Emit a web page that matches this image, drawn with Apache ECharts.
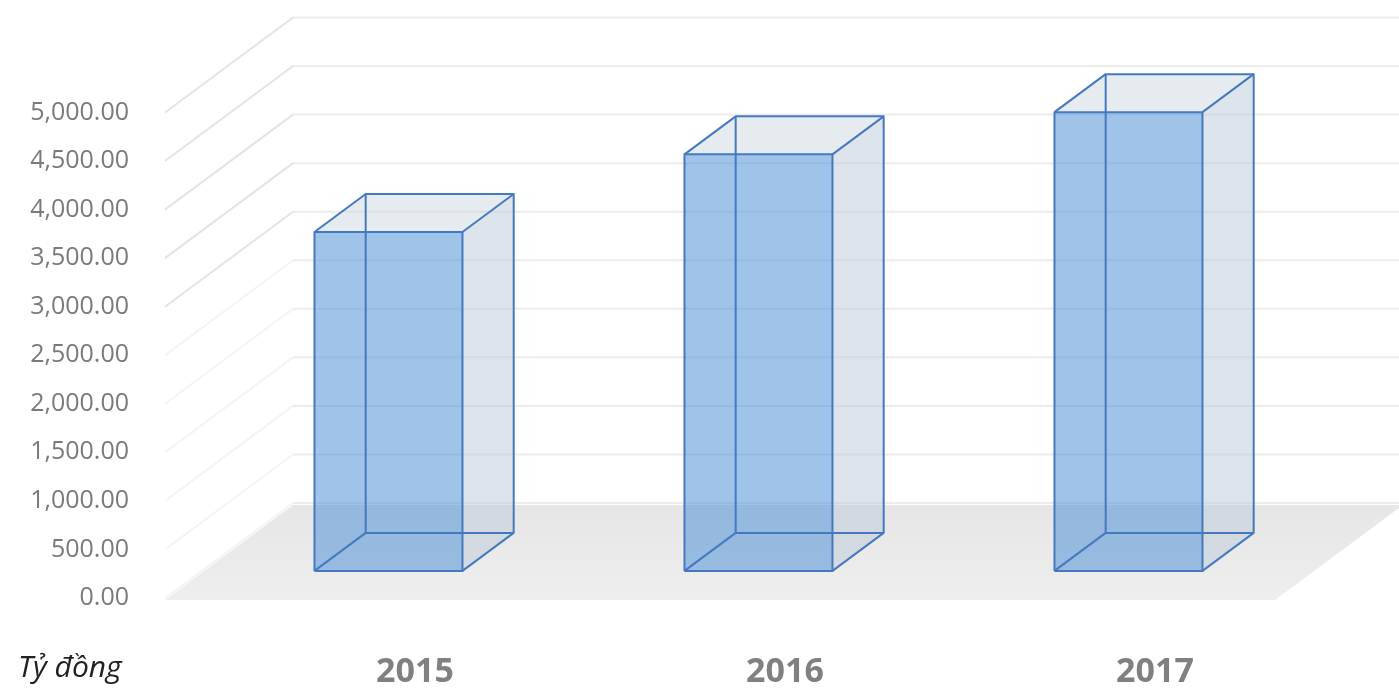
<!DOCTYPE html>
<html>
<head>
<meta charset="utf-8">
<script src="https://cdn.jsdelivr.net/npm/echarts@6/dist/echarts.min.js"></script>
<style>
  html, body { margin: 0; padding: 0; background: #ffffff; }
  #chart { width: 1399px; height: 689px; }
</style>
</head>
<body>
<div id="chart"></div>
<script>
// ---- data ----
const categories = ['2015', '2016', '2017'];
const values = [3490, 4290, 4725];
const yTicks = [0, 500, 1000, 1500, 2000, 2500, 3000, 3500, 4000, 4500, 5000];
const unitLabel = 'Tỷ đồng';

// ---- 3D projection settings (oblique) ----
const DX = 128, DY = -95;      // full depth vector of walls
const D1 = 0.285, D2 = 0.685;  // bar front / back depth fraction
const BAR_W = 0.4;             // bar width as fraction of category

const EDGE = '#4579bf';
const FRONT = 'rgba(80,145,215,0.55)';
const SIDE = 'rgba(190,201,215,0.5)';
const TOP = 'rgba(200,210,222,0.45)';

const chart = echarts.init(document.getElementById('chart'));

function fmt(v) {
  return v.toLocaleString('en-US', { minimumFractionDigits: 2, maximumFractionDigits: 2 });
}

function renderFloor(params, api) {
  const cs = params.coordSys;
  const y0 = api.coord([0, 0])[1] + 2;
  return {
    type: 'polygon',
    shape: { points: [
      [cs.x, y0], [cs.x + cs.width, y0],
      [cs.x + cs.width + DX, y0 + DY], [cs.x + DX, y0 + DY]
    ] },
    style: {
      fill: new echarts.graphic.LinearGradient(0, 0, 0, 1, [
        { offset: 0, color: '#e6e6e6' },
        { offset: 1, color: '#eeeeee' }
      ])
    },
    silent: true
  };
}

function renderWall(params, api) {
  const cs = params.coordSys;
  const v = api.value(1);
  const y = api.coord([0, v])[1];
  const gx = cs.x;
  const faint = v <= 2500;
  return {
    type: 'group',
    children: [
      {
        type: 'polyline',
        shape: { points: [[gx, y], [gx + DX, y + DY]] },
        style: { stroke: faint ? '#f4f4f4' : '#e4e4e4', lineWidth: 2, fill: null }
      },
      {
        type: 'polyline',
        shape: { points: [[gx + DX, y + DY], [gx + cs.width + DX, y + DY]] },
        style: { stroke: '#ececec', lineWidth: 2, fill: null }
      }
    ],
    silent: true
  };
}

function renderBar(params, api) {
  const i = api.value(0), v = api.value(1);
  const p0 = api.coord([i, 0]);
  const p1 = api.coord([i, v]);
  const cw = api.size([1, 0])[0];
  const bw = cw * BAR_W;
  const xl = p0[0] - bw / 2 + DX * D1 + 2;
  const xr = xl + bw;
  const yb = p0[1] + DY * D1;
  const yt = p1[1] + DY * D1;
  const ox = DX * (D2 - D1), oy = DY * (D2 - D1);
  const line = (pts) => ({
    type: 'polyline', shape: { points: pts },
    style: { stroke: EDGE, lineWidth: 2, fill: null, lineJoin: 'round' }
  });
  return {
    type: 'group',
    silent: true,
    children: [
      { type: 'polygon', shape: { points: [[xr, yb], [xr + ox, yb + oy], [xr + ox, yt + oy], [xr, yt]] },
        style: { fill: SIDE } },
      { type: 'polygon', shape: { points: [[xl, yt], [xr, yt], [xr + ox, yt + oy], [xl + ox, yt + oy]] },
        style: { fill: TOP } },
      { type: 'rect', shape: { x: xl, y: yt, width: bw, height: yb - yt },
        style: { fill: FRONT } },
      // hidden (back) edges
      line([[xl, yb], [xl + ox, yb + oy], [xr + ox, yb + oy]]),
      line([[xl + ox, yb + oy], [xl + ox, yt + oy]]),
      // side face edges
      line([[xr, yb], [xr + ox, yb + oy], [xr + ox, yt + oy], [xr, yt]]),
      // top face
      line([[xl, yt], [xl + ox, yt + oy], [xr + ox, yt + oy]]),
      // front face
      line([[xl, yb], [xr, yb], [xr, yt], [xl, yt], [xl, yb]])
    ]
  };
}

const option = {
  animation: false,
  backgroundColor: '#ffffff',
  grid: { left: 165, right: 124, top: 112.5, bottom: 89 },
  xAxis: {
    type: 'category',
    data: categories,
    axisLine: { show: false },
    axisTick: { show: false },
    axisLabel: {
      margin: 57,
      color: '#808080',
      fontFamily: 'Open Sans',
      fontWeight: 'bold',
      fontSize: 34,
      padding: [0, 0, 0, 130]
    }
  },
  yAxis: {
    type: 'value',
    min: 0, max: 5000, interval: 500,
    axisLine: { show: false },
    axisTick: { show: false },
    splitLine: { show: false },
    axisLabel: {
      margin: 36,
      color: '#7a7a7a',
      fontFamily: 'Open Sans',
      fontSize: 25,
      formatter: (v) => fmt(v)
    }
  },
  graphic: [
    {
      type: 'text', left: 18, top: 653,
      style: { text: unitLabel, font: 'italic 30px "Open Sans"', fill: '#222222' }
    }
  ],
  series: [
    { type: 'custom', name: 'floor', renderItem: renderFloor, data: [[0, 0]], z: 1, silent: true, clip: false },
    { type: 'custom', name: 'walls', renderItem: renderWall, data: yTicks.map(v => [0, v]), z: 2, silent: true, clip: false },
    { type: 'custom', name: 'values', renderItem: renderBar,
      data: values.map((v, i) => [i, v]), z: 3, silent: true, clip: false }
  ]
};

chart.setOption(option);
</script>
</body>
</html>
